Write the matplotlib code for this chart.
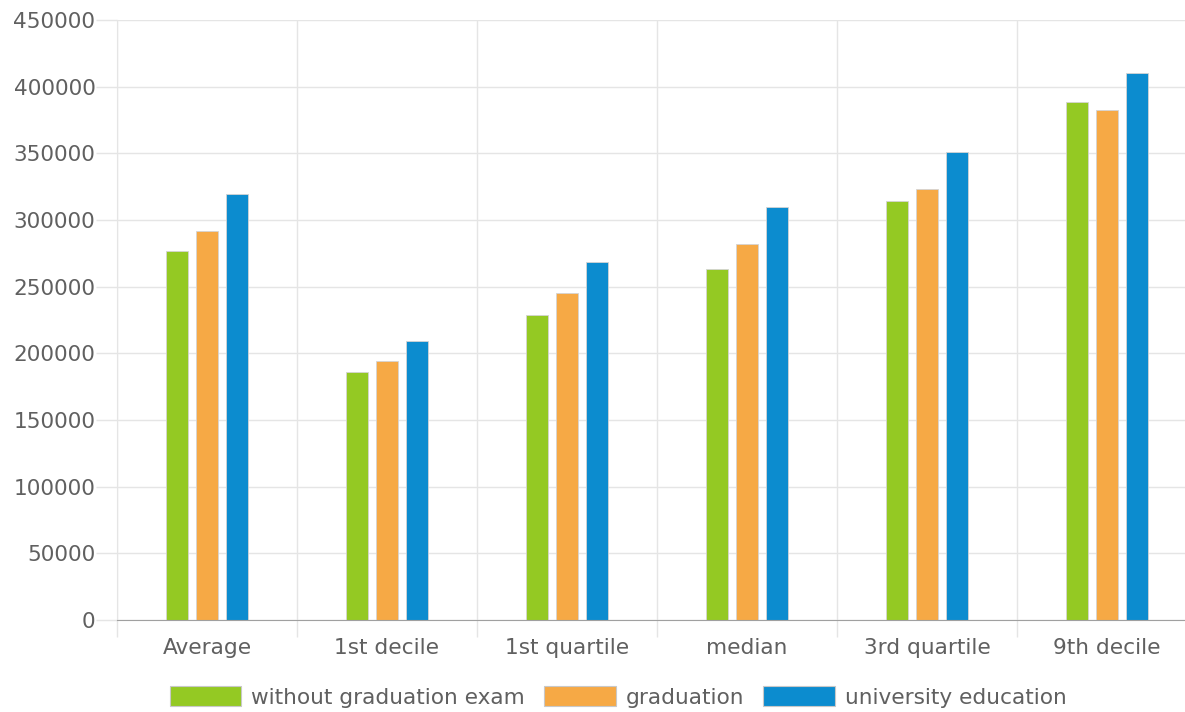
import numpy as np
import matplotlib.pyplot as plt
from matplotlib.patches import Patch

categories = ['Average', '1st decile', '1st quartile', 'median', '3rd quartile', '9th decile']
series_names = ['without graduation exam', 'graduation', 'university education']
no_exam = [277000, 186300, 228500, 263000, 314300, 388300]
graduation = [291800, 194500, 245000, 282300, 323300, 382800]
university = [319300, 209300, 268800, 310000, 350800, 410300]
colors = ['#94c923', '#f6a945', '#0c8ccf']

grid_col = '#e5e5e5'
text_col = '#606060'
fs = 15.6

fig = plt.figure(figsize=(11.85, 7.12), dpi=100)
ax = fig.add_axes([117 / 1185, 1 - 620 / 712, 1080 / 1185, 600 / 712])

x = np.arange(len(categories))
offsets = [-1 / 6, 0, 1 / 6]
for vals, off, c in zip([no_exam, graduation, university], offsets, colors):
    ax.bar(x + off, vals, width=0.118, color=c, edgecolor='#d4d4d4',
           linewidth=0.6, zorder=3)

ax.set_xlim(-0.5, len(categories) - 0.5)
ax.set_ylim(0, 450000)
ax.set_yticks(np.arange(0, 450001, 50000))
ax.set_yticklabels([str(v) for v in range(0, 450001, 50000)])

ax.set_xticks(x)
ax.set_xticklabels(categories)
ax.set_xticks(np.arange(-0.5, len(categories), 1.0), minor=True)

ax.grid(axis='y', which='major', color=grid_col, linewidth=1, zorder=0)
ax.grid(axis='x', which='minor', color=grid_col, linewidth=1, zorder=0)
ax.grid(axis='x', which='major', visible=False)

ax.tick_params(axis='x', which='major', length=0, pad=13, labelsize=fs,
               labelcolor=text_col)
ax.tick_params(axis='x', which='minor', length=12.5, width=1, color=grid_col)
ax.tick_params(axis='y', length=15, width=1, color=grid_col, pad=0.5,
               labelsize=fs, labelcolor=text_col)

for s in ['top', 'right']:
    ax.spines[s].set_visible(False)
ax.spines['left'].set_color(grid_col)
ax.spines['bottom'].set_color('#a0a0a0')
ax.spines['bottom'].set_zorder(4)

handles = [Patch(facecolor=c, edgecolor='#c8c8c8', linewidth=0.8) for c in colors]
fig.legend(handles, series_names, loc='center', bbox_to_anchor=(618 / 1185, 1 - 697 / 712),
           ncol=3, frameon=False, fontsize=fs, labelcolor=text_col,
           handlelength=3.3, handleheight=1.05, handletextpad=0.45,
           columnspacing=0.9)

fig.savefig('out.png', dpi=100)
